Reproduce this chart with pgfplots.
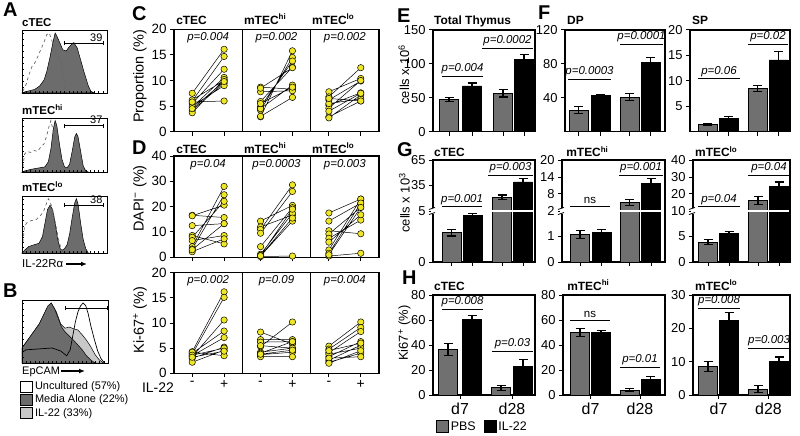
\documentclass[border=0pt]{standalone}
\usepackage{pgfplots}
\pgfplotsset{compat=1.18}
\usepackage{fontspec}
\setmainfont{Liberation Sans}
\usetikzlibrary{arrows.meta}
\definecolor{pbsgrey}{RGB}{112,112,112}
\definecolor{histgrey}{RGB}{108,108,108}
\definecolor{ilgrey}{RGB}{200,200,200}
\definecolor{dotyellow}{RGB}{240,230,40}
\newcommand{\fs}[1]{\fontsize{#1}{#1}\selectfont}
\newcommand{\pline}[4]{\draw[line width=0.8bp] (axis cs:#1,#3) -- (axis cs:#2,#3) node[midway, above, inner sep=1.5bp, font=\fs{11.5}\itshape] {#4};}
\newcommand{\nsline}[3]{\draw[line width=0.8bp] (axis cs:#1,#3) -- (axis cs:#2,#3) node[midway, above, inner sep=1.5bp, font=\fs{11.5}] {ns};}
\newcommand{\gbreak}[1]{%
  \draw[white, line width=2.5bp] (axis cs:1,50) -- (axis cs:#1,50);
  \fill[white] (axis cs:-2,47.5) rectangle (axis cs:2,52.5);
  \draw[line width=0.8bp] (axis cs:-4,46.5) -- (axis cs:2,48.5);
  \draw[line width=0.8bp] (axis cs:-4,51.5) -- (axis cs:2,53.5);}
\newcommand{\ttl}[3]{\node[anchor=base west, inner sep=0, yshift=#2, font=\fs{12}\bfseries] at (rel axis cs:#1,1) {#3};}

\pgfplotsset{
  base/.style={scale only axis, clip=false, /pgf/number format/assume math mode=true,
     axis line style={line width=1.2bp}, every tick/.style={line width=1bp, black},
     tick align=outside, tick pos=left, major tick length=4bp,
     tick label style={font=\fs{13}}, ylabel style={font=\fs{13}}},
  hist/.style={scale only axis, clip=false, width=85bp, xmin=0, xmax=100, ymin=0, ymax=105,
     axis line style={line width=0.8bp}, xtick={0,5,...,100}, ytick={0,10,...,100},
     xticklabels={}, yticklabels={}, tick align=inside, major tick length=2bp,
     every tick/.style={line width=0.4bp,black}, tick pos=left, axis on top},
  dots/.style={base, width=205bp, xmin=0, xmax=9, xtick={0.8,2.2,3.8,5.2,6.8,8.2},
     xticklabels={}, ymin=0, unbounded coords=jump, tick label style={font=\fs{13.5}},
     ylabel style={font=\fs{14.5}, at={(axis description cs:-0.166,0.54)}, anchor=center}},
  pair/.style={black, line width=0.5bp, mark=*, mark size=3.2bp,
     mark options={fill=dotyellow, draw=black, line width=0.5bp}},
  bars/.style={base, xmin=0, ymin=0, xticklabels={}},
  errs/.style={/pgfplots/error bars/y dir=both, /pgfplots/error bars/y explicit,
     /pgfplots/error bars/error bar style={line width=1.2bp, black},
     /pgfplots/error bars/error mark options={rotate=90, line width=1.2bp, black, mark size=4.5bp}},
  pbs/.style={ybar, bar shift=0pt, bar width=19, fill=pbsgrey, draw=black, line width=0.8bp, errs},
  il/.style={ybar, bar shift=0pt, bar width=19, fill=black, draw=black, line width=0.8bp, errs},
}

\begin{document}
\begin{tikzpicture}[x=1bp,y=-1bp]
\useasboundingbox (0,0) rectangle (800,436);

% ---------------- panel letters ----------------
\node[anchor=north west, inner sep=0, font=\fs{20}\bfseries] at (3,3) {A};
\node[anchor=north west, inner sep=0, font=\fs{20}\bfseries] at (3,284) {B};
\node[anchor=north west, inner sep=0, font=\fs{20}\bfseries] at (132,6) {C};
\node[anchor=north west, inner sep=0, font=\fs{20}\bfseries] at (132,141) {D};
\node[anchor=north west, inner sep=0, font=\fs{20}\bfseries] at (397,9) {E};
\node[anchor=north west, inner sep=0, font=\fs{20}\bfseries] at (538,6) {F};
\node[anchor=north west, inner sep=0, font=\fs{20}\bfseries] at (397,142) {G};
\node[anchor=north west, inner sep=0, font=\fs{20}\bfseries] at (402,271) {H};

% ---------------- Panel A ----------------
\node[anchor=base west, inner sep=0, font=\fs{11.5}\bfseries] at (22,27) {cTEC};
\node[anchor=base west, inner sep=0, font=\fs{11.5}\bfseries] at (22,115) {mTEC\textsuperscript{hi}};
\node[anchor=base west, inner sep=0, font=\fs{11.5}\bfseries] at (22,192) {mTEC\textsuperscript{lo}};

\begin{axis}[hist, height=63bp, at={(22bp,-93bp)}, anchor=south west]
\addplot[fill=histgrey, draw=black, line width=0.5bp] coordinates {(0,0)(3.5,2)(9.4,4)(15,6)(21,12)(26,22)(29,35)(33,60)(36.5,85)(39,100)(41,95)(45,82)(48,72)(52,70)(55,76)(59,82)(61,84)(65,75)(68,60)(73,35)(78,12)(81,3)(85,0)} \closedcycle;
\addplot[black!60, dashed, line width=0.7bp] coordinates {(1,3)(5,15)(8,30)(12,45)(15,50)(19,62)(22,72)(26,85)(29,97)(32,100)(35,88)(39,70)(42,60)(46,50)(48,30)(51,10)(53,2)(55,0)};
\draw[line width=0.6bp, {Bar[width=4bp]}-{Bar[width=4bp]}] (axis cs:49,83) -- (axis cs:96.5,83);
\node[anchor=south east, font=\fs{11}, inner sep=1bp] at (axis cs:96,84) {39};
\end{axis}

\begin{axis}[hist, height=54bp, at={(22bp,-172bp)}, anchor=south west]
\addplot[fill=histgrey, draw=black, line width=0.5bp] coordinates {(0,0)(3,2)(10,5)(20,8)(27,10)(31,20)(34,45)(37,85)(39,100)(41,90)(44,55)(47,25)(50,10)(53,8)(56,15)(59,40)(62,68)(64,75)(66,68)(69,40)(72,12)(75,2)(78,0)} \closedcycle;
\addplot[black!60, dashed, line width=0.7bp] coordinates {(1,10)(3,35)(6,40)(10,38)(14,42)(18,40)(22,48)(26,55)(29,70)(32,90)(34,100)(36,85)(39,60)(42,45)(45,30)(48,12)(51,0)};
\draw[line width=0.6bp, {Bar[width=4bp]}-{Bar[width=4bp]}] (axis cs:49,90) -- (axis cs:96.5,90);
\node[anchor=south east, font=\fs{11}, inner sep=1bp] at (axis cs:96,91) {37};
\end{axis}

\begin{axis}[hist, height=57bp, at={(22bp,-253bp)}, anchor=south west]
\addplot[fill=histgrey, draw=black, line width=0.5bp] coordinates {(0,0)(3,5)(8,12)(14,15)(20,18)(24,30)(27,55)(30,80)(33,88)(36,80)(39,55)(42,25)(45,8)(47,5)(50,8)(53,15)(56,35)(59,65)(62,92)(64,100)(66,90)(69,55)(72,25)(75,8)(78,0)} \closedcycle;
\addplot[black!60, dashed, line width=0.7bp] coordinates {(1,20)(3,50)(7,58)(12,60)(17,62)(21,68)(25,75)(28,88)(31,100)(33,95)(36,80)(40,50)(43,25)(46,8)(48,0)};
\draw[line width=0.6bp, {Bar[width=4bp]}-{Bar[width=4bp]}] (axis cs:49,88) -- (axis cs:96.5,88);
\node[anchor=south east, font=\fs{11}, inner sep=1bp] at (axis cs:96,89) {38};
\end{axis}

\node[anchor=base west, inner sep=0, font=\fs{11.5}] at (22,268) {IL-22Rα};
\draw[-{Latex[length=6bp,width=5bp]}, line width=1.2bp] (66,264) -- (87,264);

% ---------------- Panel B ----------------
\begin{axis}[hist, width=86bp, height=63bp, at={(22bp,-363bp)}, anchor=south west,
   legend style={at={(axis description cs:-0.02,-0.28)}, anchor=north west, draw=none, fill=none,
     font=\fs{11}, inner sep=0pt, row sep=1.5bp, nodes={inner xsep=2bp, inner ysep=0.6bp}},
   legend cell align=left]
\addlegendimage{legend image code/.code={\draw[fill=white, draw=black, line width=0.6bp] (0bp,-5.5bp) rectangle (12bp,5.5bp);}}
\addlegendentry{Uncultured (57\%)}
\addlegendimage{legend image code/.code={\draw[fill=histgrey, draw=black, line width=0.6bp] (0bp,-5.5bp) rectangle (12bp,5.5bp);}}
\addlegendentry{Media Alone (22\%)}
\addlegendimage{legend image code/.code={\draw[fill=ilgrey, draw=black, line width=0.6bp] (0bp,-5.5bp) rectangle (12bp,5.5bp);}}
\addlegendentry{IL-22 (33\%)}
\addplot[fill=white, draw=none, forget plot] coordinates {(0,18)(5,22)(15,23)(25,24)(35,25)(45,20)(52,12)(56,22)(59,45)(62,68)(65,85)(68,95)(71,100)(74,96)(77,82)(80,62)(84,40)(88,20)(92,7)(96,0)} \closedcycle;
\addplot[fill=ilgrey, draw=black, line width=0.5bp, forget plot] coordinates {(0,25)(10,45)(20,65)(28,88)(34,100)(40,85)(45,65)(50,58)(55,60)(60,57)(65,55)(70,47)(75,38)(80,27)(85,14)(90,5)(95,0)} \closedcycle;
\addplot[fill=histgrey, draw=black, line width=0.5bp, forget plot] coordinates {(0,25)(5,35)(10,45)(15,55)(20,65)(25,80)(30,95)(34,100)(38,90)(42,75)(46,60)(50,52)(55,45)(60,38)(65,30)(70,22)(75,12)(80,5)(85,0)} \closedcycle;
\addplot[black, line width=0.7bp, forget plot] coordinates {(0,18)(5,22)(15,23)(25,24)(35,25)(45,20)(52,12)(56,22)(59,45)(62,68)(65,85)(68,95)(71,100)(74,96)(77,82)(80,62)(84,40)(88,20)(92,7)(96,0)};
\draw[line width=0.6bp, {Bar[width=4bp]}-{Bar[width=4bp]}] (axis cs:50,92) -- (axis cs:99,92);
\end{axis}
\node[anchor=base west, inner sep=0, font=\fs{11}] at (22,375) {EpCAM};
\draw[-{Latex[length=6bp,width=5bp]}, line width=1.2bp] (61,371) -- (85,371);

% ---------------- Panel C ----------------
\begin{axis}[dots, height=102.4bp, at={(174bp,-131.7bp)}, anchor=south west, ymax=20, ytick={0,5,...,20},
   ylabel={Proportion (\%)}]
\addplot[pair] coordinates {(0.8,7.5)(2.2,16.1)(nan,nan)(0.8,6.0)(2.2,14.7)(nan,nan)(0.8,5.5)(2.2,12.2)(nan,nan)(0.8,4.8)(2.2,10.6)(nan,nan)(0.8,6.2)(2.2,10.0)(nan,nan)(0.8,4.2)(2.2,9.5)(nan,nan)(0.8,5.0)(2.2,9.0)(nan,nan)(0.8,3.7)(2.2,10.2)(nan,nan)(0.8,5.8)(2.2,6.0)(nan,nan)(0.8,4.5)(2.2,9.8)};
\addplot[pair] coordinates {(3.8,8.7)(5.2,8.3)(nan,nan)(3.8,7.8)(5.2,8.0)(nan,nan)(3.8,2.9)(5.2,15.8)(nan,nan)(3.8,4.2)(5.2,14.5)(nan,nan)(3.8,4.9)(5.2,13.8)(nan,nan)(3.8,5.9)(5.2,12.6)(nan,nan)(3.8,4.5)(5.2,9.1)(nan,nan)(3.8,3.0)(5.2,6.7)(nan,nan)(3.8,5.5)(5.2,8.7)(nan,nan)(3.8,8.5)(5.2,12.5)};
\addplot[pair] coordinates {(6.8,7.8)(8.2,10.4)(nan,nan)(6.8,6.8)(8.2,12.5)(nan,nan)(6.8,6.2)(8.2,9.9)(nan,nan)(6.8,5.2)(8.2,7.6)(nan,nan)(6.8,4.6)(8.2,10.0)(nan,nan)(6.8,2.9)(8.2,6.0)(nan,nan)(6.8,2.7)(8.2,7.2)(nan,nan)(6.8,5.5)(8.2,6.4)(nan,nan)(6.8,6.5)(8.2,6.0)(nan,nan)(6.8,4.0)(8.2,7.5)};
\draw[line width=1.2bp] (axis cs:3,0) -- (axis cs:3,20);
\draw[line width=1.2bp] (axis cs:6,0) -- (axis cs:6,20);
\ttl{0.01}{5bp}{cTEC}
\ttl{0.341}{5bp}{mTEC\textsuperscript{hi}}
\ttl{0.673}{5bp}{mTEC\textsuperscript{lo}}
\node[font=\fs{11.5}\itshape] at (axis cs:1.5,18.3) {p=0.004};
\node[font=\fs{11.5}\itshape] at (axis cs:4.5,18.3) {p=0.002};
\node[font=\fs{11.5}\itshape] at (axis cs:7.5,18.3) {p=0.002};
\end{axis}

% ---------------- Panel D ----------------
\begin{axis}[dots, height=101.3bp, at={(174bp,-257.3bp)}, anchor=south west, ymax=40, ytick={0,10,...,40},
   ylabel={DAPI\textsuperscript{−} (\%)}, ylabel style={at={(axis description cs:-0.166,0.58)}}]
\addplot[pair] coordinates {(0.8,16.6)(2.2,15.7)(nan,nan)(0.8,16.4)(2.2,20.6)(nan,nan)(0.8,12.5)(2.2,13.3)(nan,nan)(0.8,8.6)(2.2,5.3)(nan,nan)(0.8,7.9)(2.2,22.1)(nan,nan)(0.8,6.6)(2.2,8.6)(nan,nan)(0.8,4.2)(2.2,28.0)(nan,nan)(0.8,3.3)(2.2,24.7)(nan,nan)(0.8,2.2)(2.2,7.3)(nan,nan)(0.8,3.0)(2.2,13.3)};
\addplot[pair] coordinates {(3.8,14.3)(5.2,20.5)(nan,nan)(3.8,12.0)(5.2,16.7)(nan,nan)(3.8,11.0)(5.2,28.6)(nan,nan)(3.8,9.5)(5.2,26.0)(nan,nan)(3.8,4.2)(5.2,19.6)(nan,nan)(3.8,1.2)(5.2,17.4)(nan,nan)(3.8,0.5)(5.2,14.3)(nan,nan)(3.8,0.3)(5.2,0.5)(nan,nan)(3.8,0.8)(5.2,19.0)(nan,nan)(3.8,0.6)(5.2,15.5)};
\addplot[pair] coordinates {(6.8,17.5)(8.2,23.0)(nan,nan)(6.8,14.3)(8.2,21.4)(nan,nan)(6.8,10.5)(8.2,9.3)(nan,nan)(6.8,9.2)(8.2,19.7)(nan,nan)(6.8,7.5)(8.2,14.7)(nan,nan)(6.8,6.0)(8.2,16.8)(nan,nan)(6.8,2.9)(8.2,23.0)(nan,nan)(6.8,1.6)(8.2,21.4)(nan,nan)(6.8,0.5)(8.2,1.6)(nan,nan)(6.8,1.0)(8.2,19.7)};
\draw[line width=1.2bp] (axis cs:3,0) -- (axis cs:3,40);
\draw[line width=1.2bp] (axis cs:6,0) -- (axis cs:6,40);
\ttl{0.01}{3bp}{cTEC}
\ttl{0.341}{3bp}{mTEC\textsuperscript{hi}}
\ttl{0.673}{3bp}{mTEC\textsuperscript{lo}}
\node[font=\fs{11.5}\itshape] at (axis cs:1.5,36.4) {p=0.04};
\node[font=\fs{11.5}\itshape] at (axis cs:4.5,36.4) {p=0.0003};
\node[font=\fs{11.5}\itshape] at (axis cs:7.5,36.4) {p=0.003};
\end{axis}

% ---------------- Panel D (Ki-67) ----------------
\begin{axis}[dots, height=100.6bp, at={(174bp,-373.3bp)}, anchor=south west, ymax=20, ytick={0,5,...,20},
   xticklabels={-,+,-,+,-,+}, xticklabel style={font=\fs{14}},
   ylabel={Ki-67\textsuperscript{+} (\%)}, ylabel style={at={(axis description cs:-0.166,0.53)}}]
\addplot[pair] coordinates {(0.8,4.3)(2.2,16.2)(nan,nan)(0.8,3.8)(2.2,15.1)(nan,nan)(0.8,3.3)(2.2,10.6)(nan,nan)(0.8,4.0)(2.2,8.4)(nan,nan)(0.8,3.5)(2.2,7.1)(nan,nan)(0.8,3.0)(2.2,5.2)(nan,nan)(0.8,2.2)(2.2,4.6)(nan,nan)(0.8,4.2)(2.2,3.5)(nan,nan)(0.8,3.6)(2.2,5.0)(nan,nan)(0.8,3.2)(2.2,4.4)};
\addplot[pair] coordinates {(3.8,8.2)(5.2,5.8)(nan,nan)(3.8,6.7)(5.2,6.7)(nan,nan)(3.8,6.2)(5.2,6.3)(nan,nan)(3.8,5.3)(5.2,10.2)(nan,nan)(3.8,4.2)(5.2,5.0)(nan,nan)(3.8,3.7)(5.2,4.2)(nan,nan)(3.8,3.3)(5.2,3.3)(nan,nan)(3.8,4.0)(5.2,6.3)(nan,nan)(3.8,5.5)(5.2,5.0)(nan,nan)(3.8,3.8)(5.2,4.6)};
\addplot[pair] coordinates {(6.8,5.4)(8.2,10.2)(nan,nan)(6.8,4.8)(8.2,9.1)(nan,nan)(6.8,4.1)(8.2,8.3)(nan,nan)(6.8,3.3)(8.2,6.3)(nan,nan)(6.8,2.6)(8.2,5.6)(nan,nan)(6.8,3.8)(8.2,5.0)(nan,nan)(6.8,2.2)(8.2,4.0)(nan,nan)(6.8,3.0)(8.2,3.3)(nan,nan)(6.8,4.5)(8.2,6.0)(nan,nan)(6.8,2.0)(8.2,4.5)};
\draw[line width=1.2bp] (axis cs:3,0) -- (axis cs:3,20);
\draw[line width=1.2bp] (axis cs:6,0) -- (axis cs:6,20);
\node[font=\fs{11.5}\itshape] at (axis cs:1.5,18.5) {p=0.002};
\node[font=\fs{11.5}\itshape] at (axis cs:4.5,18.5) {p=0.09};
\node[font=\fs{11.5}\itshape] at (axis cs:7.5,18.5) {p=0.004};
\node[anchor=north east, font=\fs{14}, inner sep=0] at (axis cs:0,-1.9) {IL-22};
\end{axis}

% ---------------- Panel E ----------------
\begin{axis}[bars, width=102bp, height=101.7bp, at={(433bp,-131.7bp)}, anchor=south west, xmax=102, ymax=150,
   ytick={0,50,100,150}, xtick={16,39,70,91}, ylabel={cells x 10\textsuperscript{6}},
   ylabel style={at={(axis description cs:-0.285,0.56)}, anchor=center}]
\addplot[pbs] coordinates {(16,47.7) +- (0,3.2) (70,56.6) +- (0,5.4)};
\addplot[il] coordinates {(39,67.4) +- (0,4.4) (91,106.7) +- (0,7.4)};
\pline{9}{50}{82}{p=0.004}
\pline{49}{100}{123.5}{p=0.0002}
\ttl{0.01}{5bp}{Total Thymus}
\end{axis}

% ---------------- Panel F ----------------
\begin{axis}[bars, width=100bp, height=101.7bp, at={(565bp,-131.7bp)}, anchor=south west, xmax=100, ymax=120,
   ytick={40,80,120}, xtick={13.5,35.5,64.5,85.5}]
\addplot[pbs] coordinates {(13.5,25.6) +- (0,4) (64.5,40.9) +- (0,4.3)};
\addplot[il] coordinates {(35.5,42.5) +- (0,1.8) (85.5,81.9) +- (0,5.9)};
\pline{3}{46}{62}{p=0.0003}
\pline{55}{98}{103.5}{p=0.0001}
\ttl{0.02}{5bp}{DP}
\end{axis}

\begin{axis}[bars, width=100bp, height=101.7bp, at={(690bp,-131.7bp)}, anchor=south west, xmax=100, ymax=20,
   ytick={5,10,15,20}, xtick={17.5,38.5,67.5,88.5}]
\addplot[pbs] coordinates {(17.5,1.44) +- (0,0.2) (67.5,8.5) +- (0,0.55)};
\addplot[il] coordinates {(38.5,2.6) +- (0,0.35) (88.5,14.1) +- (0,1.7)};
\pline{8}{50}{10.4}{p=0.06}
\pline{58}{98}{17.2}{p=0.02}
\ttl{0.02}{5bp}{SP}
\end{axis}

% ---------------- Panel G (broken axes; values in display units: lower half linear up to the break, upper half linear above it) ----------------
\begin{axis}[bars, width=102bp, height=102bp, at={(433bp,-262bp)}, anchor=south west, xmax=102, ymax=100,
   ytick={0,50,75,100}, yticklabels={0,5,35,65}, xtick={18.5,39.5,69,90},
   ylabel={cells x 10\textsuperscript{3}}, ylabel style={at={(axis description cs:-0.28,0.58)}, anchor=center}]
\addplot[pbs] coordinates {(18.5,28.8) +- (0,3.3) (69,63.6) +- (0,2)};
\addplot[il] coordinates {(39.5,45.4) +- (0,2.3) (90,78.5) +- (0,3)};
\gbreak{101}
\pline{9}{49}{54.2}{p=0.001}
\pline{55}{100}{85.3}{p=0.003}
\ttl{0.01}{3bp}{cTEC}
\end{axis}

\begin{axis}[bars, width=103bp, height=102bp, at={(562bp,-262bp)}, anchor=south west, xmax=103, ymax=100,
   ytick={0,25,50,66.67,83.33,100}, yticklabels={0,1,2,8,14,20}, xtick={18,39.5,67.5,89}]
\addplot[pbs] coordinates {(18,27) +- (0,4) (67.5,58.2) +- (0,3)};
\addplot[il] coordinates {(39.5,29.3) +- (0,2.5) (89,77) +- (0,5)};
\gbreak{102}
\nsline{8}{48}{55}
\pline{57}{101}{85.3}{p=0.001}
\ttl{0.04}{3bp}{mTEC\textsuperscript{hi}}
\end{axis}

\begin{axis}[bars, width=97bp, height=102bp, at={(693bp,-262bp)}, anchor=south west, xmax=97, ymax=100,
   ytick={0,25,50,66.67,83.33,100}, yticklabels={0,5,10,20,30,40}, xtick={15,36,65,86}]
\addplot[pbs] coordinates {(15,19.4) +- (0,2.5) (65,60.5) +- (0,4)};
\addplot[il] coordinates {(36,27.6) +- (0,2) (86,74) +- (0,4.5)};
\gbreak{96}
\pline{5}{47}{54.2}{p=0.04}
\pline{55}{97}{85.3}{p=0.04}
\ttl{0.02}{3bp}{mTEC\textsuperscript{lo}}
\end{axis}

% ---------------- Panel H ----------------
\begin{axis}[bars, width=102bp, height=100bp, at={(433bp,-395bp)}, anchor=south west, xmax=102, ymax=80,
   ytick={0,20,...,80}, xtick={27,79}, xticklabels={d7,d28}, xticklabel style={font=\fs{16}},
   ylabel={Ki67\textsuperscript{+} (\%)}, ylabel style={at={(axis description cs:-0.28,0.62)}, anchor=center},
   legend columns=2, legend style={at={(axis description cs:0.03,-0.25)}, anchor=north west, draw=none, fill=none,
     font=\fs{12.5}, inner sep=0pt, nodes={inner xsep=2bp, inner ysep=0bp}, /tikz/every even column/.append style={column sep=6bp}}]
\addlegendimage{legend image code/.code={\draw[fill=pbsgrey, draw=black, line width=0.6bp] (0bp,-6bp) rectangle (12bp,6bp);}}
\addlegendentry{PBS}
\addlegendimage{legend image code/.code={\draw[fill=black, draw=black, line width=0.6bp] (0bp,-6bp) rectangle (12bp,6bp);}}
\addlegendentry{IL-22}
\addplot[pbs, forget plot] coordinates {(15,36.5) +- (0,5) (68,5.9) +- (0,2)};
\addplot[il, forget plot] coordinates {(39,60.5) +- (0,3) (90,23.2) +- (0,5)};
\pline{9}{50}{68.8}{p=0.008}
\pline{59}{100}{35.2}{p=0.03}
\ttl{0.01}{5bp}{cTEC}
\end{axis}

\begin{axis}[bars, width=102bp, height=100bp, at={(563bp,-395bp)}, anchor=south west, xmax=102, ymax=80,
   ytick={0,20,...,80}, xtick={27.5,77}, xticklabels={d7,d28}, xticklabel style={font=\fs{16}}]
\addplot[pbs] coordinates {(17,49.9) +- (0,3) (66.5,4) +- (0,1.5)};
\addplot[il] coordinates {(38,49.9) +- (0,2) (87.5,12.5) +- (0,2)};
\nsline{7}{47}{60}
\pline{57}{97}{22.4}{p=0.01}
\ttl{0.04}{5bp}{mTEC\textsuperscript{hi}}
\end{axis}

\begin{axis}[bars, width=97bp, height=100bp, at={(693bp,-395bp)}, anchor=south west, xmax=97, ymax=30,
   ytick={0,10,20,30}, xtick={25.5,75.5}, xticklabels={d7,d28}, xticklabel style={font=\fs{16}}]
\addplot[pbs] coordinates {(15,8.5) +- (0,1.5) (65,1.8) +- (0,1)};
\addplot[il] coordinates {(36,22.5) +- (0,2.3) (86,10.2) +- (0,1.2)};
\pline{5}{47}{26.1}{p=0.008}
\pline{55}{97}{14.1}{p=0.003}
\ttl{0.02}{5bp}{mTEC\textsuperscript{lo}}
\end{axis}

\end{tikzpicture}
\end{document}
